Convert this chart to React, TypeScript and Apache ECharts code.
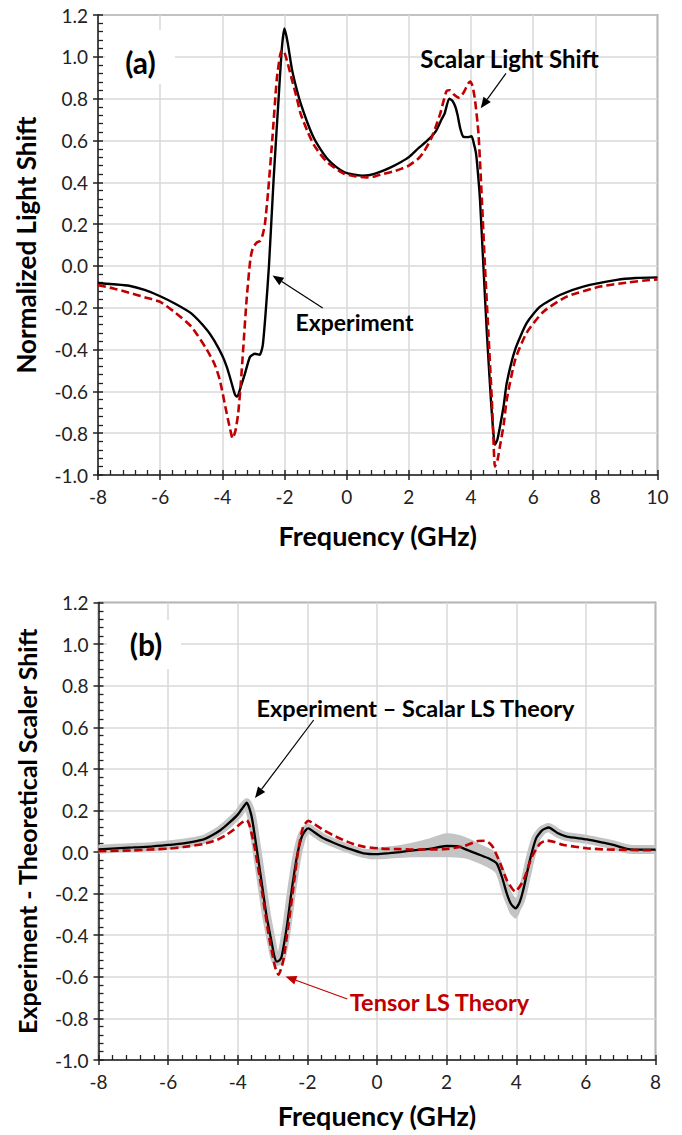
import React, { useEffect, useRef } from "react";
import * as echarts from "echarts";

// ---------- Panel (a): normalized light shift ----------
const expAF = [-8, -7.5, -7, -6.5, -6, -5.5, -5, -4.5, -4.25, -4, -3.86, -3.75, -3.59, -3.52, -3.4, -3.27, -3.11, -2.95, -2.8, -2.7, -2.6, -2.5, -2.35, -2.2, -2.08, -2.0, -1.9, -1.76, -1.6, -1.48, -1.25, -1.06, -0.85, -0.63, -0.35, -0.07, 0.2, 0.49, 0.75, 1.05, 1.4, 1.75, 2.0, 2.31, 2.6, 2.87, 3.05, 3.15, 3.3, 3.4, 3.5, 3.57, 3.65, 3.75, 3.9, 4.02, 4.1, 4.16, 4.22, 4.29, 4.4, 4.51, 4.64, 4.72, 4.77, 4.85, 4.93, 5.05, 5.15, 5.42, 5.79, 6.22, 6.86, 7.61, 8.69, 9.3, 10];
const expAV = [-0.082, -0.088, -0.095, -0.115, -0.145, -0.182, -0.227, -0.305, -0.36, -0.43, -0.482, -0.535, -0.617, -0.625, -0.575, -0.514, -0.435, -0.42, -0.425, -0.38, -0.21, 0.0, 0.415, 0.777, 1.05, 1.136, 1.07, 0.94, 0.84, 0.777, 0.68, 0.613, 0.56, 0.514, 0.475, 0.448, 0.437, 0.432, 0.435, 0.448, 0.47, 0.497, 0.52, 0.563, 0.6, 0.645, 0.7, 0.728, 0.8, 0.79, 0.76, 0.72, 0.66, 0.618, 0.616, 0.62, 0.58, 0.539, 0.45, 0.315, -0.004, -0.32, -0.64, -0.8, -0.856, -0.83, -0.77, -0.67, -0.56, -0.4, -0.274, -0.195, -0.139, -0.099, -0.067, -0.058, -0.055];

const thAF = [-8, -7.5, -7, -6.5, -6, -5.5, -5, -4.5, -4.25, -4.08, -3.86, -3.75, -3.67, -3.58, -3.49, -3.41, -3.33, -3.22, -3.1, -3.02, -2.89, -2.78, -2.7, -2.63, -2.53, -2.39, -2.25, -2.15, -2.08, -2.0, -1.9, -1.76, -1.6, -1.48, -1.25, -1.06, -0.85, -0.63, -0.35, -0.07, 0.3, 0.63, 0.9, 1.19, 1.5, 1.75, 2.0, 2.31, 2.5, 2.73, 2.9, 3.01, 3.12, 3.22, 3.33, 3.45, 3.6, 3.7, 3.8, 3.9, 3.97, 4.05, 4.13, 4.24, 4.35, 4.45, 4.56, 4.67, 4.72, 4.77, 4.85, 4.93, 5.05, 5.15, 5.42, 5.79, 6.33, 7.08, 8.15, 9.0, 9.76, 10];
const thAV = [-0.092, -0.108, -0.128, -0.15, -0.172, -0.225, -0.29, -0.4, -0.47, -0.546, -0.705, -0.78, -0.825, -0.79, -0.705, -0.57, -0.4, -0.163, 0.03, 0.085, 0.112, 0.12, 0.15, 0.2, 0.35, 0.61, 0.89, 1.0, 1.032, 1.02, 0.97, 0.89, 0.8, 0.727, 0.64, 0.58, 0.535, 0.497, 0.465, 0.44, 0.428, 0.423, 0.428, 0.44, 0.452, 0.464, 0.48, 0.514, 0.55, 0.613, 0.68, 0.728, 0.79, 0.838, 0.84, 0.82, 0.805, 0.815, 0.84, 0.87, 0.882, 0.86, 0.793, 0.634, 0.315, -0.004, -0.32, -0.64, -0.82, -0.96, -0.93, -0.864, -0.76, -0.64, -0.45, -0.32, -0.219, -0.147, -0.099, -0.08, -0.067, -0.065];

// ---------- Panel (b): experiment minus scalar theory ----------
const diffF = [-8, -7.5, -7, -6.5, -6, -5.56, -5, -4.75, -4.5, -4.25, -4.0, -3.85, -3.74, -3.6, -3.45, -3.31, -3.17, -3.02, -2.95, -2.88, -2.8, -2.74, -2.59, -2.45, -2.3, -2.16, -2.05, -1.97, -1.8, -1.54, -1.25, -0.97, -0.7, -0.39, 0.0, 0.35, 0.66, 1.05, 1.5, 2.0, 2.3, 2.48, 2.96, 3.2, 3.44, 3.59, 3.73, 3.85, 3.98, 4.1, 4.2, 4.39, 4.57, 4.75, 4.93, 5.2, 5.45, 6.03, 6.5, 6.79, 7.27, 7.6, 8];
const diffV = [0.013, 0.018, 0.022, 0.026, 0.034, 0.042, 0.06, 0.08, 0.105, 0.14, 0.18, 0.215, 0.237, 0.17, 0.01, -0.15, -0.31, -0.44, -0.5, -0.527, -0.52, -0.503, -0.359, -0.183, -0.022, 0.074, 0.105, 0.114, 0.095, 0.066, 0.045, 0.026, 0.01, -0.006, -0.01, -0.005, 0.0, 0.008, 0.015, 0.029, 0.028, 0.018, -0.014, -0.03, -0.055, -0.12, -0.2, -0.25, -0.271, -0.24, -0.183, -0.04, 0.066, 0.105, 0.118, 0.09, 0.074, 0.061, 0.045, 0.034, 0.013, 0.012, 0.012];

const tensorF = [-8, -7, -6.52, -6, -5.56, -5, -4.6, -4.35, -4.13, -3.9, -3.74, -3.65, -3.5, -3.31, -3.12, -2.93, -2.83, -2.75, -2.69, -2.55, -2.4, -2.26, -2.12, -1.97, -1.8, -1.54, -1.25, -0.97, -0.7, -0.39, 0.09, 0.66, 1.05, 1.5, 2.0, 2.48, 2.87, 3.11, 3.25, 3.35, 3.54, 3.73, 3.97, 4.21, 4.45, 4.69, 4.88, 5.1, 5.36, 6.03, 6.5, 7.27, 8];
const tensorV = [0.004, 0.008, 0.012, 0.016, 0.024, 0.038, 0.058, 0.08, 0.106, 0.14, 0.154, 0.122, 0.01, -0.183, -0.39, -0.551, -0.59, -0.56, -0.52, -0.359, -0.167, 0.01, 0.122, 0.15, 0.135, 0.106, 0.08, 0.058, 0.04, 0.026, 0.017, 0.014, 0.012, 0.012, 0.015, 0.027, 0.052, 0.054, 0.04, 0.018, -0.055, -0.135, -0.19, -0.135, -0.022, 0.042, 0.055, 0.048, 0.034, 0.018, 0.013, 0.01, 0.008];

// wider uncertainty band (gray) in the 0-4 GHz region
const bandF = [-0.3, 0.0, 0.5, 1.0, 1.5, 2.0, 2.5, 3.0, 3.4, 3.6, 3.8, 4.0, 4.15];
const bandLo = [-0.03, -0.035, -0.03, -0.025, -0.025, -0.025, -0.03, -0.06, -0.1, -0.17, -0.29, -0.32, -0.26];
const bandHi = [0.01, 0.02, 0.03, 0.045, 0.065, 0.09, 0.075, 0.035, 0.0, -0.06, -0.17, -0.22, -0.16];

const xTicksA = { min: -8, max: 10, interval: 2 };
const xTicksB = { min: -8, max: 8, interval: 2 };
const yTicks = { min: -1, max: 1.2, interval: 0.2 };

const FONT = "Lato, 'Open Sans', sans-serif";
const RED = "#c00000";
const pairs = (xs: number[], ys: number[]) => xs.map((x, i) => [x, ys[i]]);

function arrow(x1: number, y1: number, x2: number, y2: number, color: string) {
  const ang = Math.atan2(y2 - y1, x2 - x1);
  const L = 11, W = 4.5;
  const bx = x2 - L * Math.cos(ang), by = y2 - L * Math.sin(ang);
  const px = -Math.sin(ang) * W, py = Math.cos(ang) * W;
  return [
    { type: "line", shape: { x1, y1, x2: bx, y2: by }, style: { stroke: color, lineWidth: 1.2 } },
    { type: "polygon", shape: { points: [[x2, y2], [bx + px, by + py], [bx - px, by - py]] }, style: { fill: color } },
  ];
}

function label(text: string, x: number, y: number, size: number, color = "#000") {
  return {
    type: "text", x, y,
    style: { text, fill: color, font: `bold ${size}px ${FONT}`, textAlign: "center", textVerticalAlign: "middle" },
  };
}

function mainX(grid: number, t: any, name: string, gap: number) {
  return {
    type: "value", gridIndex: grid, position: "bottom", ...t,
    name, nameLocation: "middle", nameGap: gap,
    nameTextStyle: { fontFamily: FONT, fontWeight: "bold", fontSize: 27, color: "#000" },
    axisLine: { show: true, onZero: false, lineStyle: { color: "#222", width: 1.5 } },
    axisTick: { show: true, inside: false, length: 5, lineStyle: { color: "#222", width: 1.5 } },
    minorTick: { show: false },
    axisLabel: { fontFamily: FONT, fontSize: 19, color: "#222", margin: 12, formatter: (v: number) => String(Math.round(v)) },
    splitLine: { show: true, lineStyle: { color: "#d9d9d9", width: 1.5 } },
  };
}
function innerX(grid: number, t: any) {
  return {
    type: "value", gridIndex: grid, position: "bottom", ...t,
    axisLine: { show: false, onZero: false },
    axisTick: { show: true, inside: true, length: 5, lineStyle: { color: "#222", width: 1.5 } },
    minorTick: { show: true, splitNumber: 5, length: 5, lineStyle: { color: "#222", width: 1.3 } },
    axisLabel: { show: false },
    splitLine: { show: false },
  };
}
function mainY(grid: number, name: string, size: number) {
  return {
    type: "value", gridIndex: grid, position: "left", ...yTicks,
    name, nameLocation: "middle", nameGap: 59,
    nameTextStyle: { fontFamily: FONT, fontWeight: "bold", fontSize: size, color: "#000" },
    axisLine: { show: true, onZero: false, lineStyle: { color: "#222", width: 1.5 } },
    axisTick: { show: true, inside: false, length: 5, lineStyle: { color: "#222", width: 1.5 } },
    minorTick: { show: false },
    axisLabel: { fontFamily: FONT, fontSize: 19, color: "#222", margin: 10, formatter: (v: number) => v.toFixed(1) },
    splitLine: { show: true, lineStyle: { color: "#d9d9d9", width: 1.5 } },
  };
}
function innerY(grid: number) {
  return {
    type: "value", gridIndex: grid, position: "left", ...yTicks,
    axisLine: { show: false, onZero: false },
    axisTick: { show: true, inside: true, length: 5, lineStyle: { color: "#222", width: 1.5 } },
    minorTick: { show: true, splitNumber: 5, length: 5, lineStyle: { color: "#222", width: 1.3 } },
    axisLabel: { show: false },
    splitLine: { show: false },
  };
}

export default function App() {
  const ref = useRef<HTMLDivElement>(null);
  useEffect(() => {
    if (!ref.current) return;
    const chart = echarts.init(ref.current, null, { renderer: "svg" });
    const option: any = {
      animation: false,
      backgroundColor: "#fff",
      grid: [
        { left: 98, top: 15, width: 559.5, height: 460, show: true, borderColor: "#555", borderWidth: 1.5, backgroundColor: "transparent" },
        { left: 98.5, top: 602.5, width: 557, height: 457.5, show: true, borderColor: "#555", borderWidth: 1.5, backgroundColor: "transparent" },
      ],
      xAxis: [
        mainX(0, xTicksA, "Frequency (GHz)", 47),
        innerX(0, xTicksA),
        mainX(1, xTicksB, "Frequency (GHz)", 42),
        innerX(1, xTicksB),
      ],
      yAxis: [
        mainY(0, "Normalized Light Shift", 26),
        innerY(0),
        mainY(1, "Experiment - Theoretical Scaler Shift", 25),
        innerY(1),
      ],
      series: [
        {
          type: "line", xAxisIndex: 0, yAxisIndex: 0, data: pairs(expAF, expAV),
          showSymbol: false, smooth: 0.2, lineStyle: { color: "#000", width: 2.4 }, z: 3,
        },
        {
          type: "line", xAxisIndex: 0, yAxisIndex: 0, data: pairs(thAF, thAV),
          showSymbol: false, smooth: 0.2, lineStyle: { color: RED, width: 2.6, type: [8, 4] }, z: 4,
        },
        {
          type: "custom", xAxisIndex: 2, yAxisIndex: 2, data: [[0, 0]], silent: true, z: 1,
          renderItem: (_p: any, api: any) => {
            const up = bandF.map((f, i) => api.coord([f, bandHi[i]]));
            const lo = bandF.map((f, i) => api.coord([f, bandLo[i]])).reverse();
            return { type: "polygon", shape: { points: up.concat(lo), smooth: 0.3 }, style: { fill: "#c4c4c4" } };
          },
        },
        {
          type: "line", xAxisIndex: 2, yAxisIndex: 2, data: pairs(diffF, diffV),
          showSymbol: false, smooth: 0.2, lineStyle: { color: "#c4c4c4", width: 9, cap: "butt", join: "round" }, z: 2,
        },
        {
          type: "line", xAxisIndex: 2, yAxisIndex: 2, data: pairs(diffF, diffV),
          showSymbol: false, smooth: 0.2, lineStyle: { color: "#000", width: 2.3 }, z: 3,
        },
        {
          type: "line", xAxisIndex: 2, yAxisIndex: 2, data: pairs(tensorF, tensorV),
          showSymbol: false, smooth: 0.2, lineStyle: { color: RED, width: 2.6, type: [8, 4] }, z: 4,
        },
      ],
      graphic: [
        { type: "rect", shape: { x: 105, y: 30, width: 70, height: 54 }, style: { fill: "#fff" }, z: 5 },
        { type: "rect", shape: { x: 107, y: 620, width: 74, height: 49 }, style: { fill: "#fff" }, z: 5 },
        { ...label("(a)", 140.5, 62, 30), z: 6 },
        { ...label("(b)", 146, 644, 30), z: 6 },
        { ...label("Scalar Light Shift", 509.5, 58, 24), z: 6 },
        { ...label("Experiment", 354.5, 321.5, 23), z: 6 },
        { ...label("Experiment \u2013 Scalar LS Theory", 415.5, 708, 23.5), z: 6 },
        { ...label("Tensor LS Theory", 439.5, 1001.5, 23.5, RED), z: 6 },
        ...arrow(506, 73.3, 480.7, 108.3, "#000").map((g) => ({ ...g, z: 6 })),
        ...arrow(322.7, 307.9, 272.5, 275.5, "#000").map((g) => ({ ...g, z: 6 })),
        ...arrow(313.7, 720, 255, 798, "#000").map((g) => ({ ...g, z: 6 })),
        ...arrow(347.3, 999, 285.5, 976.5, RED).map((g) => ({ ...g, z: 6 })),
      ],
    };
    chart.setOption(option);
    return () => chart.dispose();
  }, []);
  return (
    <div
      ref={ref}
      style={{ position: "absolute", left: 0, top: 0, width: 682, height: 1135, background: "#fff" }}
    />
  );
}
